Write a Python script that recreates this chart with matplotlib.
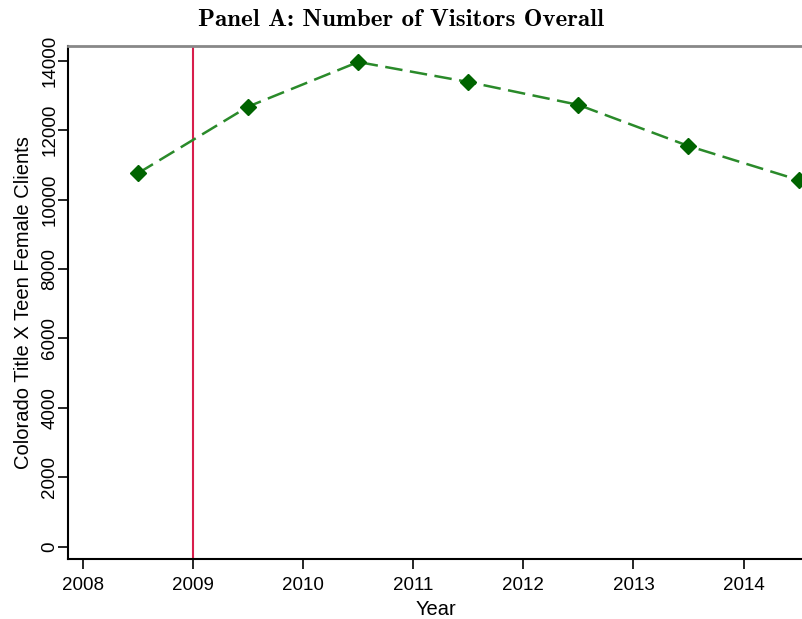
import matplotlib
matplotlib.use('Agg')
import matplotlib.pyplot as plt

# data
years = [2008.5, 2009.5, 2010.5, 2011.5, 2012.5, 2013.5, 2014.5]
clients = [10760, 12680, 13965, 13390, 12730, 11545, 10565]
policy_year = 2009
xticks = [2008, 2009, 2010, 2011, 2012, 2013, 2014]
yticks = [0, 2000, 4000, 6000, 8000, 10000, 12000, 14000]

plt.rcParams['font.family'] = ['Liberation Sans', 'DejaVu Sans']

fig = plt.figure(figsize=(8.03, 6.19), dpi=100)
ax = fig.add_axes([0.0846, 0.097, 0.9154, 0.829])

ax.axvline(policy_year, color='#d81e4c', linewidth=1.5, zorder=1)
ax.plot(years, clients, color='#2a8a2a', linestyle=(0, (7, 3)), linewidth=1.8,
        marker='D', markersize=8, markerfacecolor='#006400', markeredgecolor='#006400',
        zorder=2)

ax.set_xlim(2007.864, 2014.54)
ax.set_ylim(-354, 14432)
ax.set_xticks(xticks)
ax.set_yticks(yticks)
ax.set_yticklabels([str(v) for v in yticks], rotation=90, va='center')
ax.tick_params(axis='both', direction='out', length=7, width=1.2, labelsize=13.5, color='black')
ax.tick_params(axis='y', pad=0)
ax.tick_params(axis='x', pad=6)

ax.spines['top'].set_color('#888888')
ax.spines['top'].set_linewidth(2)
ax.spines['right'].set_visible(False)
ax.spines['left'].set_linewidth(1.5)
ax.spines['bottom'].set_linewidth(1.5)

ax.set_xlabel('Year', fontsize=14.5, labelpad=4)
ax.set_ylabel('Colorado Title X Teen Female Clients', fontsize=14.5, labelpad=6)

fig.text(0.5, 0.968, 'Panel A: Number of Visitors Overall', ha='center', va='center',
         fontsize=18, family=['cmb10', 'DejaVu Serif'])

fig.savefig('out.png', dpi=100)
